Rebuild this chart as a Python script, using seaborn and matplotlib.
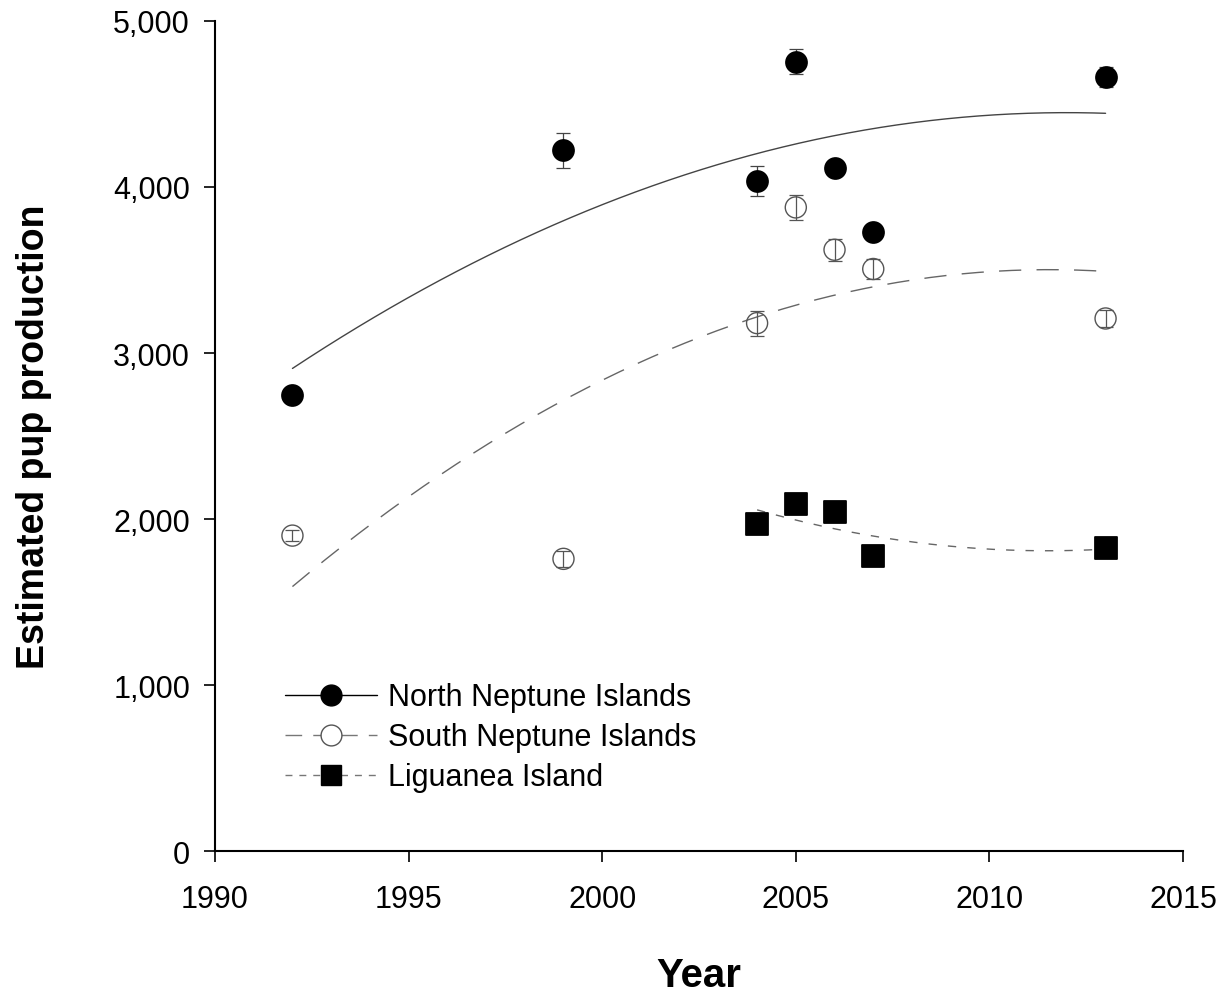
import numpy as np
import pandas as pd
import matplotlib
matplotlib.use("Agg")
import matplotlib.pyplot as plt
import seaborn as sns
from matplotlib.lines import Line2D

# survey years and estimates
north_years = [1992, 1999, 2004, 2005, 2006, 2007, 2013]
north_pups = [2750, 4220, 4035, 4755, 4115, 3730, 4665]
north_err = [0, 105, 90, 76, 25, 25, 60]

south_years = [1992, 1999, 2004, 2005, 2006, 2007, 2013]
south_pups = [1900, 1760, 3180, 3877, 3622, 3506, 3208]
south_err = [35, 50, 75, 76, 66, 60, 53]

lig_years = [2004, 2005, 2006, 2007, 2013]
lig_pups = [1972, 2090, 2042, 1776, 1826]

x_ticks = [1990, 1995, 2000, 2005, 2010, 2015]
y_ticks = [0, 1000, 2000, 3000, 4000, 5000]

sns.set_style("white")
plt.rcParams['font.family'] = ['Liberation Sans', 'DejaVu Sans']
plt.rcParams['text.color'] = 'black'
plt.rcParams['axes.labelcolor'] = 'black'

fig = plt.figure(figsize=(12.3, 9.95), dpi=100)
ax = fig.add_axes([0.1748, 0.1437, 0.787, 0.8342])


def fit_curve(years, pups, deg):
    coef = np.polyfit(years, pups, deg)
    xs = np.linspace(min(years), max(years), 200)
    return pd.DataFrame({'year': xs, 'pups': np.polyval(coef, xs)})


north_fit = fit_curve(north_years, north_pups, 2)
south_fit = fit_curve(south_years, south_pups, 2)
lig_fit = fit_curve(lig_years, lig_pups, 2)

sns.lineplot(data=north_fit, x='year', y='pups', ax=ax, color='#444444', lw=1.0)
sns.lineplot(data=south_fit, x='year', y='pups', ax=ax, color='#666666', lw=1.0)
ax.lines[-1].set_dashes([16, 11])
sns.lineplot(data=lig_fit, x='year', y='pups', ax=ax, color='#666666', lw=1.0)
ax.lines[-1].set_dashes([6, 8])

# error bars
ax.errorbar(north_years, north_pups, yerr=north_err, fmt='none', ecolor='#444444',
            elinewidth=0.9, capsize=5, capthick=0.9, zorder=3)
ax.errorbar(south_years, south_pups, yerr=south_err, fmt='none', ecolor='#555555',
            elinewidth=0.9, capsize=5, capthick=0.9, zorder=3)

sns.scatterplot(x=north_years, y=north_pups, ax=ax, marker='o', s=230,
                color='black', edgecolor='black', zorder=4)
sns.scatterplot(x=south_years, y=south_pups, ax=ax, marker='o', s=230,
                facecolor='none', edgecolor='#555555', linewidth=1.0, zorder=4)
sns.scatterplot(x=lig_years, y=lig_pups, ax=ax, marker='s', s=260,
                color='black', edgecolor='black', zorder=4)

ax.set_xlim(1990, 2015)
ax.set_ylim(0, 5000)
ax.set_xticks(x_ticks)
ax.set_yticks(y_ticks)
ax.set_yticklabels([f"{v:,}" for v in y_ticks])
ax.tick_params(axis='both', direction='out', length=8, width=1.2, labelsize=22,
               colors='black', bottom=True, left=True)
ax.tick_params(axis='x', pad=16)
ax.tick_params(axis='y', pad=10)
for side in ['top', 'right']:
    ax.spines[side].set_visible(False)
for side in ['left', 'bottom']:
    ax.spines[side].set_color('black')
    ax.spines[side].set_linewidth(1.5)

ax.set_xlabel('Year', fontsize=29, fontweight='bold', labelpad=30)
ax.set_ylabel('Estimated pup production', fontsize=27, fontweight='bold', labelpad=44)

handles = [
    Line2D([], [], color='black', lw=1.0, marker='o', markersize=15,
           markerfacecolor='black', markeredgecolor='black'),
    Line2D([], [], color='#777777', lw=1.0, dashes=[12, 8], marker='o', markersize=15,
           markerfacecolor='white', markeredgecolor='#555555'),
    Line2D([], [], color='#777777', lw=1.0, dashes=[5, 5], marker='s', markersize=15,
           markerfacecolor='black', markeredgecolor='black'),
]
labels = ['North Neptune Islands', 'South Neptune Islands', 'Liguanea Island']
ax.legend(handles, labels, loc='upper left', bbox_to_anchor=(0.06, 0.218),
          borderaxespad=0, frameon=False, fontsize=22, handlelength=3.0,
          handletextpad=0.35, labelspacing=0.33)

fig.savefig('out.png', dpi=100)
